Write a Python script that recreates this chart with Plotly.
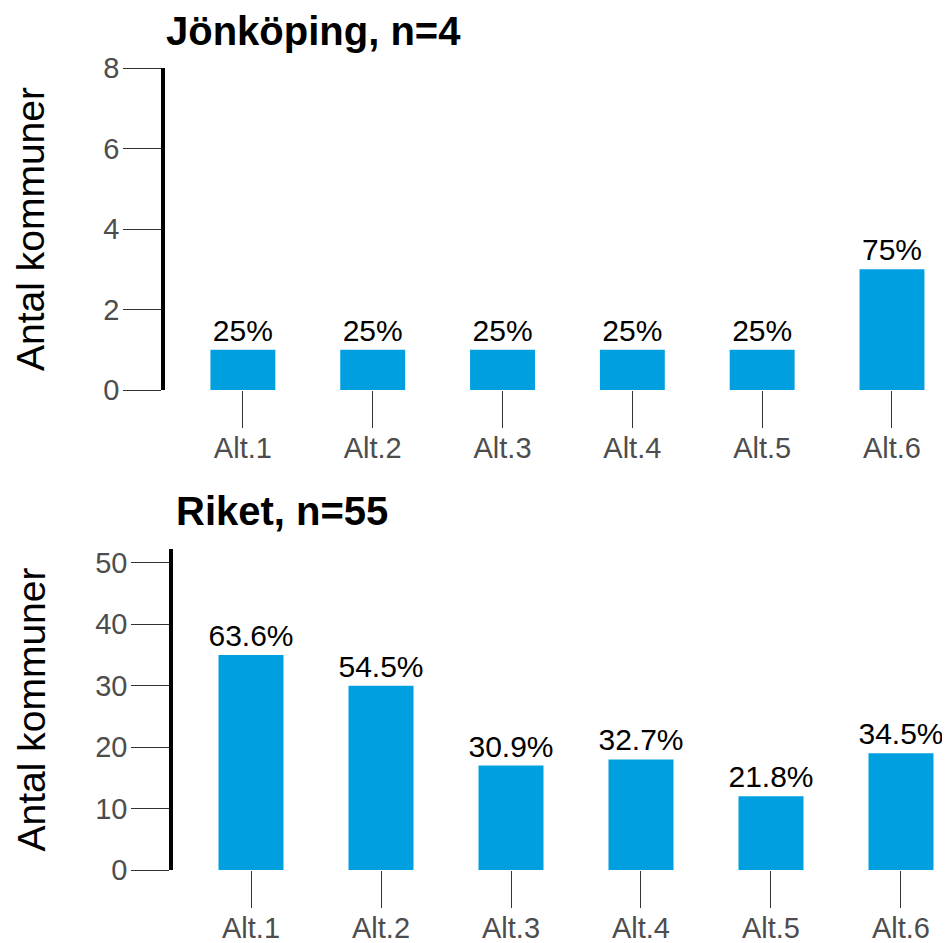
import plotly.graph_objects as go

# data
categories = ["Alt.1", "Alt.2", "Alt.3", "Alt.4", "Alt.5", "Alt.6"]

jkp_title = "Jönköping, n=4"
jkp_n = 4
jkp_counts = [1, 1, 1, 1, 1, 3]

riket_title = "Riket, n=55"
riket_n = 55
riket_counts = [35, 30, 17, 18, 12, 19]

y_title = "Antal kommuner"
jkp_yticks = [0, 2, 4, 6, 8]
riket_yticks = [0, 10, 20, 30, 40, 50]

# page body has an 8px margin, so the figure is a bit smaller than the window
OFF = 8
W, H = 950 - OFF, 943 - OFF
bar_col = "#009FE0"
font_fam = "Liberation Sans, Arial, sans-serif"


def px_x(x):
    return (x - OFF) / W


def px_y(y):
    return 1 - (y - OFF) / H


def pct_label(c, n):
    p = round(100 * c / n, 1)
    if p == int(p):
        return "%d%%" % int(p)
    return "%.1f%%" % p


fig = go.Figure()

fig.add_trace(go.Bar(x=categories, y=jkp_counts, width=0.5,
                     marker=dict(color=bar_col, line=dict(width=0)),
                     text=[pct_label(c, jkp_n) for c in jkp_counts],
                     textposition="outside", constraintext="none", cliponaxis=False,
                     textfont=dict(size=30, color="black", family=font_fam),
                     xaxis="x", yaxis="y", showlegend=False))

fig.add_trace(go.Bar(x=categories, y=riket_counts, width=0.5,
                     marker=dict(color=bar_col, line=dict(width=0)),
                     text=[pct_label(c, riket_n) for c in riket_counts],
                     textposition="outside", constraintext="none", cliponaxis=False,
                     textfont=dict(size=30, color="black", family=font_fam),
                     xaxis="x2", yaxis="y2", showlegend=False))

xcommon = dict(showline=False, showgrid=False, zeroline=False, ticks="outside",
               ticklen=37, tickwidth=1.2, tickcolor="#333333", automargin=False,
               ticklabelstandoff=-5,
               tickfont=dict(size=29, color="#4D4D4D", family=font_fam))
ycommon = dict(showline=True, linecolor="black", linewidth=3.5, showgrid=False,
               zeroline=False, ticks="outside", ticklen=38, tickwidth=1.2,
               tickcolor="#333333", automargin=False, ticklabelstandoff=-2,
               tickfont=dict(size=29, color="#4D4D4D", family=font_fam))

top_y = [px_y(390), px_y(68)]
bot_y = [px_y(870), px_y(549)]

fig.update_layout(
    template="none",
    width=W, height=H,
    margin=dict(l=0, r=0, t=0, b=0, pad=0),
    paper_bgcolor="white", plot_bgcolor="white",
    font=dict(family=font_fam),
    xaxis=dict(xcommon, domain=[px_x(165), 1], range=[-0.6, 5.447], anchor="y"),
    yaxis=dict(ycommon, domain=top_y, range=[0, 8], tickvals=jkp_yticks, anchor="x"),
    xaxis2=dict(xcommon, domain=[px_x(173), 1], range=[-0.6, 5.377], anchor="y2"),
    yaxis2=dict(ycommon, domain=bot_y, range=[0, 52.25], tickvals=riket_yticks, anchor="x2"),
    annotations=[
        dict(text="<b>%s</b>" % jkp_title, xref="paper", yref="paper",
             x=px_x(164), y=px_y(31), xanchor="left", yanchor="middle",
             showarrow=False, font=dict(size=40, color="black", family=font_fam)),
        dict(text="<b>%s</b>" % riket_title, xref="paper", yref="paper",
             x=px_x(174), y=px_y(511), xanchor="left", yanchor="middle",
             showarrow=False, font=dict(size=40, color="black", family=font_fam)),
        # y-axis titles
        dict(text=y_title, xref="paper", yref="paper", textangle=-90, borderpad=0,
             x=px_x(31), y=sum(top_y) / 2, xanchor="center", yanchor="middle",
             showarrow=False, font=dict(size=39, color="black", family=font_fam)),
        dict(text=y_title, xref="paper", yref="paper", textangle=-90, borderpad=0,
             x=px_x(31), y=sum(bot_y) / 2, xanchor="center", yanchor="middle",
             showarrow=False, font=dict(size=39, color="black", family=font_fam)),
    ],
)

fig.write_html("out.html")
